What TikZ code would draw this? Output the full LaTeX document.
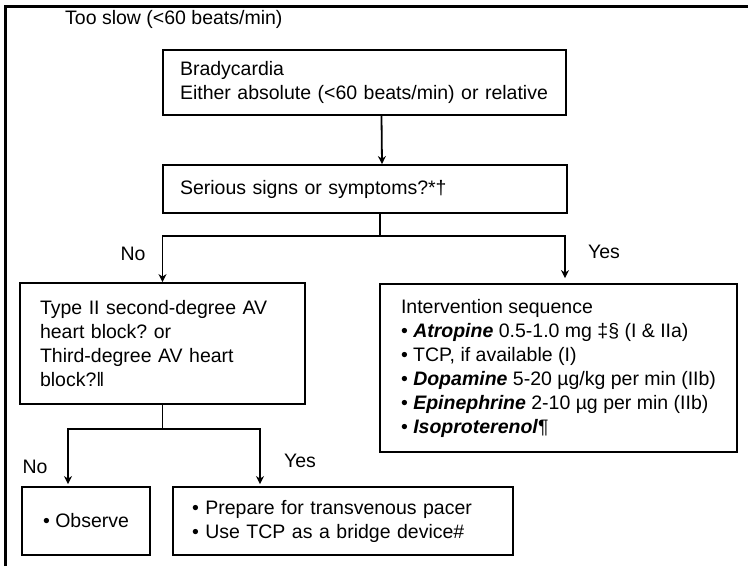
\documentclass[tikz,border=0pt]{standalone}
\usepackage{fontspec}
\setmainfont{Liberation Sans}
\usetikzlibrary{arrows.meta}
\begin{document}
\begin{tikzpicture}[x=1pt,y=-1pt,
  every node/.style={font=\fontsize{19.5}{24}\selectfont\frenchspacing},
  box/.style={draw,line width=1.9pt,inner xsep=17pt,inner ysep=0pt,align=left},
  arr/.style={line width=1.8pt,>={Stealth[length=8pt,width=8pt]},->},
  lbl/.style={inner sep=0pt}]

  \useasboundingbox (0,0) rectangle (748,566);
  \draw[line width=3pt] (5,566) -- (5,6) -- (748,6);

  \node[lbl,anchor=west] (slow) at (65,19) {Too slow (<60 beats/min)};
  \node[box,text width=369pt,minimum height=65pt] (brady) at (364.5,82.5) {Bradycardia\\Either absolute (<60 beats/min) or relative};
  \node[box,text width=370pt,minimum height=48pt] (serious) at (365,189) {Serious signs or symptoms?*†};
  \node[box,inner xsep=20pt,text width=245pt,minimum height=121pt] (typeii) at (162.5,343.5) {Type II second-degree AV\\heart block? or\\Third-degree AV heart\\block?‖};
  \node[box,inner xsep=0pt,minimum width=357pt,minimum height=168pt] (interv) at (558.5,368) {Intervention sequence\\• \textbf{\textit{Atropine}} 0.5-1.0 mg ‡§ (I \& IIa)\\• TCP, if available (I)\\• \textbf{\textit{Dopamine}} 5-20 µg/kg per min (IIb)\\• \textbf{\textit{Epinephrine}} 2-10 µg per min (IIb)\\• \textbf{\textit{Isoproterenol}}¶};
  \node[box,align=center,inner xsep=4pt,minimum width=128pt,minimum height=68pt] (observe) at (86,521) {• Observe};
  \node[box,inner xsep=19pt,text width=302pt,minimum height=68pt] (prepare) at (343,521) {• Prepare for transvenous pacer\\• Use TCP as a bridge device\#};

  \draw[arr] ([xshift=17pt]brady.south) -- ([xshift=17pt]serious.north);
  \draw[line width=1.8pt] ([xshift=15pt]serious.south) -- ++(0,22) coordinate (fork1);
  \draw[arr] (fork1) -| (typeii.north);
  \draw[arr,shorten >=5pt] (fork1) -| ([xshift=6.5pt]interv.north);
  \node[lbl] (no1) at (133,254) {No};
  \node[lbl] (yes1) at (604,252) {Yes};

  \draw[line width=1.8pt] (typeii.south) -- ++(0,24) coordinate (fork2);
  \draw[arr,shorten >=2pt] (fork2) -| ([xshift=-18pt]observe.north);
  \draw[arr,shorten >=2pt] (fork2) -| ([xshift=-83pt]prepare.north);
  \node[lbl] (no2) at (35,467) {No};
  \node[lbl] (yes2) at (300,461) {Yes};

\end{tikzpicture}
\end{document}
